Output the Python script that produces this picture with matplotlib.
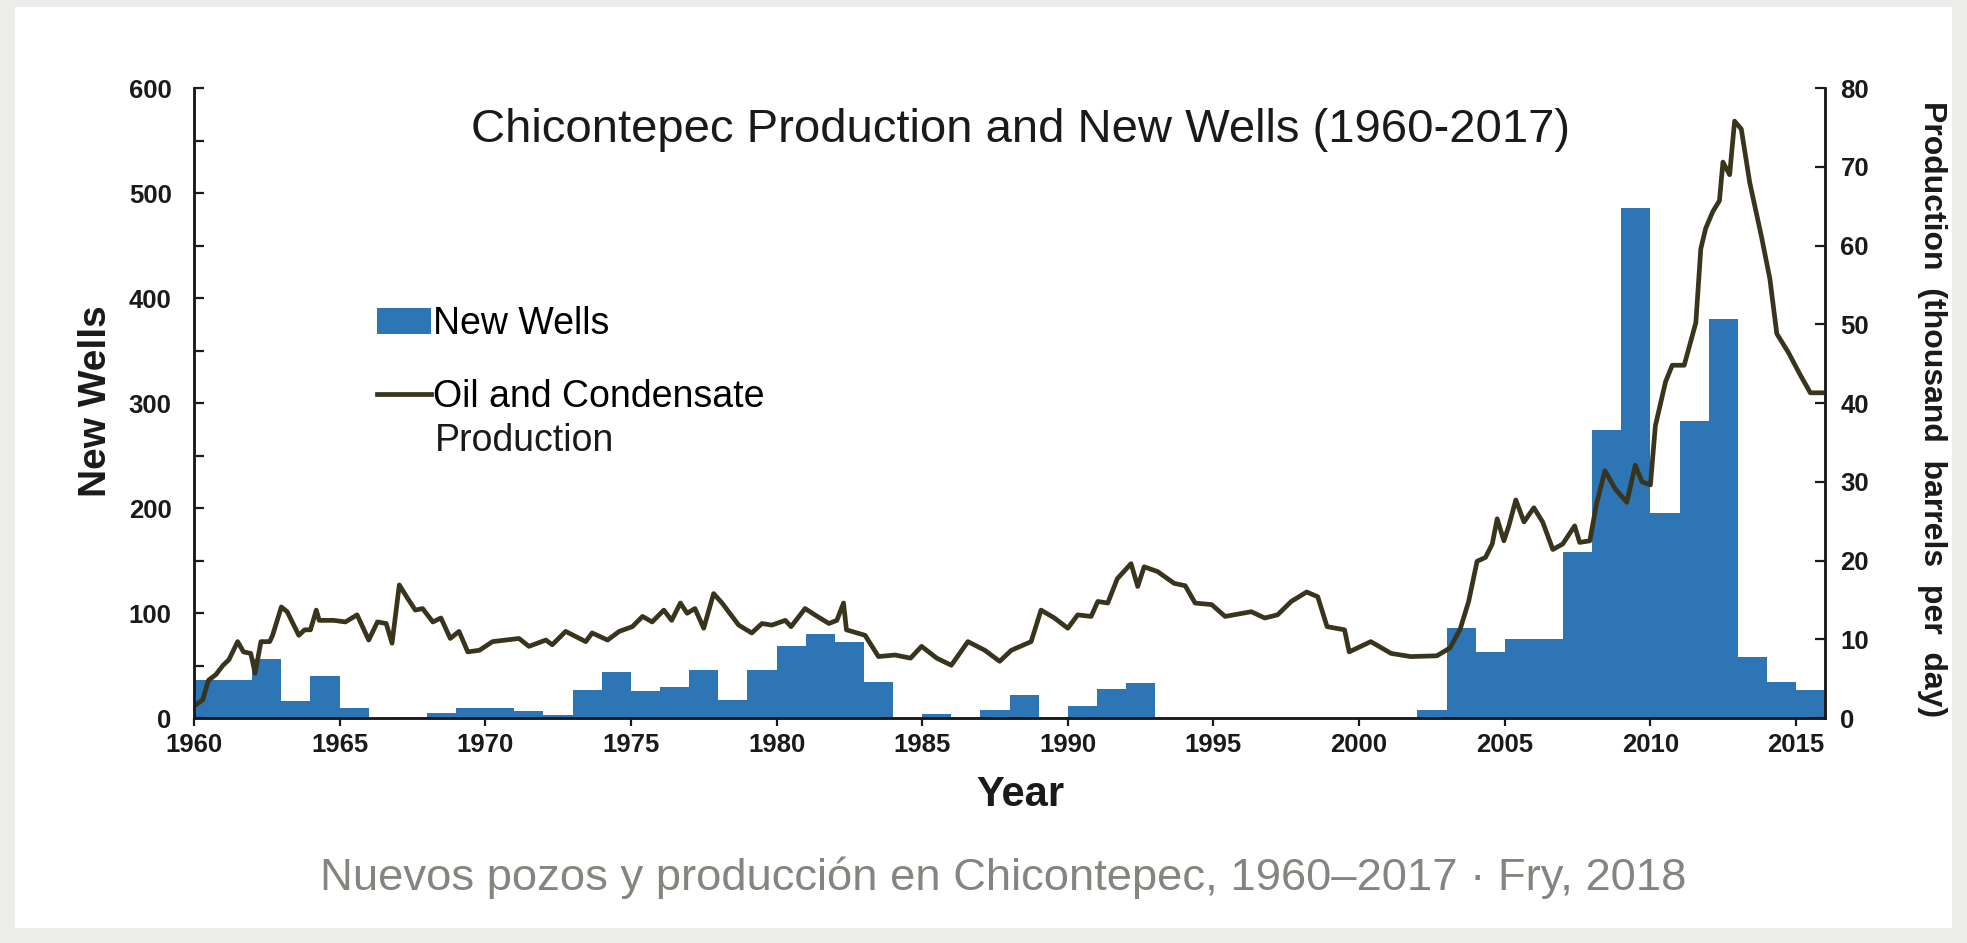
import matplotlib.pyplot as plt
from matplotlib.patches import Rectangle, Patch
from matplotlib.lines import Line2D
from matplotlib.ticker import MultipleLocator
import numpy as np

plt.rcParams['font.family'] = ['Liberation Sans', 'DejaVu Sans']

# New wells per year (bars, left axis)
well_years = list(range(1960, 2016))
new_wells = [36, 36, 56, 16, 40, 10, 0, 1, 5, 10, 10, 7, 3, 27, 44, 26, 30, 46, 17, 46,
             69, 80, 72, 34, 0, 4, 0, 8, 22, 1, 11, 28, 33, 0, 0, 0, 0, 0, 0, 0,
             0, 0, 8, 86, 63, 75, 75, 158, 274, 486, 195, 283, 380, 58, 34, 27]

# Oil and condensate production (thousand b/d, right axis)
prod_years = [1960.0, 1960.3, 1960.5, 1960.75, 1961.0, 1961.2, 1961.5, 1961.7, 1961.95, 1962.1,
              1962.3, 1962.6, 1962.7, 1963.0, 1963.2, 1963.6, 1963.8, 1964.0, 1964.2, 1964.3,
              1964.8, 1965.2, 1965.6, 1966.0, 1966.3, 1966.6, 1966.8, 1967.05, 1967.3, 1967.6,
              1967.85, 1968.2, 1968.48, 1968.8, 1969.1, 1969.4, 1969.8, 1970.25, 1970.7, 1971.16,
              1971.5, 1972.08, 1972.3, 1972.76, 1973.45, 1973.67, 1974.2, 1974.6, 1975.05, 1975.4,
              1975.73, 1976.13, 1976.4, 1976.7, 1976.93, 1977.2, 1977.5, 1977.84, 1978.13, 1978.7,
              1979.15, 1979.5, 1979.84, 1980.3, 1980.5, 1980.98, 1981.4, 1981.8, 1982.07, 1982.3,
              1982.4, 1983.04, 1983.5, 1984.07, 1984.6, 1984.98, 1985.5, 1986.0, 1986.57, 1987.15,
              1987.66, 1988.06, 1988.74, 1989.08, 1989.54, 1990.0, 1990.34, 1990.8, 1991.03, 1991.37,
              1991.7, 1992.17, 1992.4, 1992.62, 1993.08, 1993.65, 1994.03, 1994.37, 1994.94, 1995.4,
              1996.3, 1996.76, 1997.2, 1997.67, 1998.2, 1998.58, 1998.9, 1999.5, 1999.66, 2000.4,
              2001.1, 2001.77, 2002.67, 2003.12, 2003.47, 2003.76, 2004.05, 2004.34, 2004.57, 2004.74,
              2004.97, 2005.14, 2005.38, 2005.66, 2006.0, 2006.3, 2006.65, 2006.99, 2007.4, 2007.57,
              2007.92, 2008.15, 2008.44, 2008.79, 2009.19, 2009.48, 2009.71, 2010.0, 2010.17, 2010.52,
              2010.75, 2011.16, 2011.56, 2011.73, 2011.9, 2012.14, 2012.37, 2012.49, 2012.72, 2012.89,
              2013.12, 2013.41, 2013.82, 2014.1, 2014.34, 2014.74, 2015.14, 2015.49, 2015.95]
production = [1.5, 2.3, 4.8, 5.5, 6.7, 7.4, 9.7, 8.4, 8.2, 5.7,
              9.7, 9.7, 10.5, 14.1, 13.5, 10.5, 11.2, 11.2, 13.7, 12.4,
              12.4, 12.2, 13.1, 9.9, 12.2, 12.0, 9.5, 16.9, 15.4, 13.7,
              13.9, 12.2, 12.7, 10.1, 11.0, 8.4, 8.6, 9.7, 9.9, 10.1,
              9.1, 9.9, 9.3, 11.0, 9.7, 10.8, 9.9, 11.0, 11.6, 12.9,
              12.2, 13.7, 12.4, 14.6, 13.3, 13.9, 11.4, 15.8, 14.6, 11.8,
              10.8, 12.0, 11.8, 12.4, 11.6, 13.9, 12.9, 12.0, 12.4, 14.6,
              11.2, 10.5, 7.8, 8.0, 7.6, 9.1, 7.6, 6.7, 9.7, 8.6,
              7.2, 8.6, 9.7, 13.7, 12.7, 11.4, 13.1, 12.9, 14.8, 14.6,
              17.7, 19.6, 16.7, 19.2, 18.6, 17.1, 16.8, 14.6, 14.4, 12.9,
              13.5, 12.7, 13.1, 14.8, 16.0, 15.4, 11.6, 11.2, 8.4, 9.7,
              8.2, 7.8, 7.9, 8.9, 11.3, 14.8, 19.9, 20.4, 22.1, 25.3,
              22.5, 24.4, 27.7, 24.9, 26.7, 24.9, 21.4, 22.1, 24.4, 22.3,
              22.5, 27.2, 31.4, 29.1, 27.4, 32.1, 30.0, 29.6, 37.1, 42.7,
              44.8, 44.8, 50.2, 59.6, 62.2, 64.3, 65.7, 70.6, 69.0, 75.8,
              74.8, 68.0, 61.0, 55.8, 48.8, 46.4, 43.6, 41.3, 41.3]

bar_color = '#2e75b6'
line_color = '#38351c'
ink = '#1a1a1a'

fig = plt.figure(figsize=(19.67, 9.43), dpi=100)
fig.patch.set_facecolor('#ededeb')
fig.add_artist(Rectangle((0.0076, 0.0155), 0.9848, 0.9775, transform=fig.transFigure,
                         facecolor='white', edgecolor='none', zorder=0))

ax = fig.add_axes([0.0986, 0.2386, 0.8293, 0.668])
ax.set_facecolor('none')
ax.bar(well_years, new_wells, width=1.0, align='edge', color=bar_color, linewidth=0)
ax.set_xlim(1960, 2016)
ax.set_ylim(0, 600)

ax2 = ax.twinx()
ax2.plot(prod_years, production, color=line_color, lw=3.4, solid_joinstyle='round')
ax2.set_ylim(0, 80)

for a in (ax, ax2):
    a.spines['top'].set_visible(False)
    for s in ('left', 'right', 'bottom'):
        a.spines[s].set_linewidth(1.8)
        a.spines[s].set_color(ink)

ax.yaxis.set_major_locator(MultipleLocator(100))
ax.yaxis.set_minor_locator(MultipleLocator(50))
ax.xaxis.set_major_locator(MultipleLocator(5))
ax.tick_params(axis='y', which='both', direction='in', length=7, width=1.6, color=ink,
               pad=16, labelsize=18.5)
ax.tick_params(axis='x', direction='out', length=6, width=1.6, color=ink, pad=5, labelsize=18.5)
ax2.yaxis.set_major_locator(MultipleLocator(10))
ax2.tick_params(axis='y', direction='in', length=7, width=1.6, color=ink, pad=11, labelsize=18.5)
for lab in ax.get_xticklabels() + ax.get_yticklabels() + ax2.get_yticklabels():
    lab.set_fontweight('bold')
    lab.set_color(ink)

fig.text(0.5186, 0.862, 'Chicontepec Production and New Wells (1960-2017)',
         ha='center', va='center', fontsize=34, color=ink)
fig.text(0.049, 0.575, 'New Wells', rotation=90, ha='center', va='center',
         fontsize=28, fontweight='bold', color=ink)
fig.text(0.519, 0.157, 'Year', ha='center', va='center', fontsize=30,
         fontweight='bold', color=ink)
fig.text(0.982, 0.566, 'Production  (thousand  barrels  per  day)', rotation=270,
         ha='center', va='center', fontsize=23, fontweight='bold', color=ink)

handles = [Patch(facecolor=bar_color, edgecolor='none'),
           Line2D([], [], color=line_color, lw=3.4)]
ax.legend(handles, ['New Wells', 'Oil and Condensate'],
          loc='upper left', bbox_to_anchor=(0.103, 0.678), frameon=False,
          fontsize=27, handlelength=1.45, handletextpad=0.05, labelspacing=1.0,
          borderaxespad=0)
ax.text(0.1478, 0.439, 'Production', transform=ax.transAxes, ha='left', va='center',
        fontsize=27, color=ink)

fig.text(0.510, 0.069, 'Nuevos pozos y producción en Chicontepec, 1960–2017 · Fry, 2018',
         ha='center', va='center', fontsize=32.7, color='#858580')

fig.savefig('out.png', dpi=100, facecolor=fig.get_facecolor())
